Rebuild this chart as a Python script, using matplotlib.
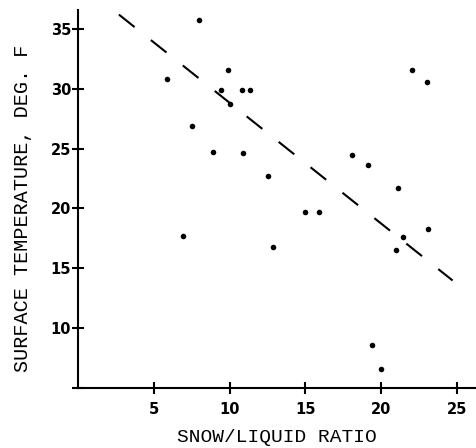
import numpy as np
import matplotlib
matplotlib.use("Agg")
import matplotlib.pyplot as plt

# snow/liquid ratio vs surface temperature
snow_ratio = [7.98, 5.86, 9.91, 9.41, 10.0, 7.5, 8.9, 10.83, 11.34, 10.88,
              12.5, 18.1, 19.1, 21.1, 22.0, 23.0, 14.96, 15.9, 6.9, 12.85,
              21.45, 20.97, 23.07, 19.36, 20.0]
surface_temp = [35.75, 30.8, 31.6, 29.9, 28.7, 26.9, 24.7, 29.9, 29.9, 24.6,
                22.7, 24.5, 23.6, 21.7, 31.6, 30.6, 19.7, 19.7, 17.7, 16.75,
                17.6, 16.5, 18.3, 8.6, 6.6]

# dashed trend line
line_x = [2.7, 24.7]
line_slope = -1.01
line_intercept = 38.93

x_ticks = [5, 10, 15, 20, 25]
y_ticks = [5, 10, 15, 20, 25, 30, 35]
y_tick_labels = ["", "10", "15", "20", "25", "30", "35"]

fig = plt.figure(figsize=(4.77, 4.48), dpi=100)
ax = fig.add_axes([0.1635, 0.134, 0.833, 0.844])

lx = np.array(line_x)
ax.plot(lx, line_intercept + line_slope * lx, color="black", lw=1.5,
        dashes=(9.6, 10), solid_capstyle="butt")
ax.plot(snow_ratio, surface_temp, "o", color="black", ms=4, mec="none")

ax.set_xlim(0, 26.2)
ax.set_ylim(5, 36.6)
for s in ["top", "right"]:
    ax.spines[s].set_visible(False)
for s in ["left", "bottom"]:
    ax.spines[s].set_linewidth(1.5)

ax.set_xticks(x_ticks)
ax.set_yticks(y_ticks)
ax.set_yticklabels(y_tick_labels)
ax.tick_params(axis="both", direction="inout", length=8, width=1.5,
               labelsize=10.5)
ax.tick_params(axis="y", pad=1)
ax.tick_params(axis="x", pad=6)
for lab in ax.get_xticklabels() + ax.get_yticklabels():
    lab.set_fontweight("bold")

ax.set_xlabel("SNOW/LIQUID RATIO", family="Liberation Mono", fontsize=14,
              labelpad=9)
ax.set_ylabel("SURFACE TEMPERATURE, DEG. F", family="Liberation Mono",
              fontsize=14.5)
ax.yaxis.set_label_coords(-0.116, 0.476)

fig.savefig("out.png", dpi=100)
